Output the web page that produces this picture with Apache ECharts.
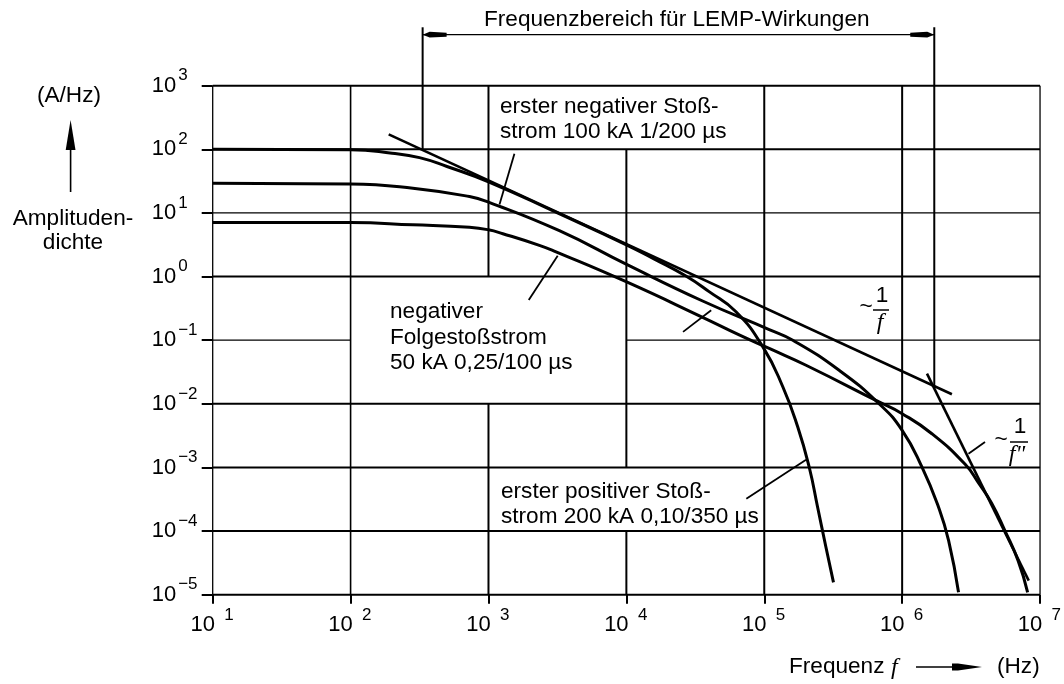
<!DOCTYPE html>
<html><head><meta charset="utf-8">
<script src="https://cdn.jsdelivr.net/npm/echarts/dist/echarts.min.js"></script>
<style>html,body{margin:0;padding:0;background:#fff}#c{width:1064px;height:684px}</style>
</head><body><div id="c"></div>
<script>
// ---------------- data ----------------
// Frequency in Hz, amplitude density in A/Hz
const posFirstFreq = [10, 100, 200, 316, 500, 1000, 3162, 10000, 15850, 27040, 39810, 62370, 97720, 136500, 175000, 212300, 243800, 279900, 317700];
const posFirstDens = [100, 98.8, 87, 74, 53.7, 30.9, 10, 3.16, 1.9, 1.02, 0.58, 0.28, 0.0785, 0.0184, 0.00431, 0.000989, 0.000237, 0.0000562, 0.0000156];

const negFirstFreq = [10, 100, 283, 728, 1000, 3266, 9954, 35730, 108600, 161100, 349100, 679200, 1000000, 1393000, 1837000, 2173000, 2564000];
const negFirstDens = [29.4, 28.6, 24.5, 18.1, 14.8, 5.26, 1.567, 0.413, 0.147, 0.1, 0.0337, 0.01007, 0.00383, 0.00101, 0.000237, 0.0000708, 0.0000109];

const negSubFreq = [10, 100, 283, 728, 1000, 1271, 2339, 3090, 9954, 35730, 66370, 108600, 200900, 679200, 1000000, 1644000, 2864000, 3600000, 4457000, 5559000, 6934000, 8128000];
const negSubDens = [7.08, 7.05, 6.52, 5.94, 5.43, 4.72, 3.1, 2.45, 0.83, 0.229, 0.12, 0.0741, 0.0404, 0.0107, 0.0070, 0.00339, 0.00112, 0.000562, 0.000275, 0.000102, 0.0000343, 0.0000109];

const slope1Freq = [189, 2296000];          // ~1/f asymptote
const slope1Dens = [171.4, 0.01413];
const slopeNFreq = [1514000, 8279000];      // ~1/f'' asymptote
const slopeNDens = [0.02985, 0.0000166];

// LEMP frequency range bracket
const lempFreq = [333, 1710000];
const lempTop = 8279;
const lempArrowDens = 6339;
const lempBottom = [97.7, 0.0187];

// leader lines: [f1, d1, f2, d2]
const leaders = [
  [1542, 85.5, 1202, 13.55],
  [1959, 0.429, 3177, 2.12],
  [25760, 0.135, 41210, 0.296],
  [3027000, 0.00164, 3990000, 0.00251],
  [74130, 0.000321, 201000, 0.00132]
];

// grid lines (with the gaps left for the labels)
const gridVertical = [ // [frequency, densFrom, densTo]
  [10, 1e-5, 1e3], [100, 1e-5, 1e3],
  [1000, 1, 1e3], [1000, 1e-5, 1e-2],
  [1e4, 1e-3, 1e2], [1e4, 1e-5, 1e-4],
  [1e5, 1e-5, 1e3], [1e6, 1e-5, 1e3], [1e7, 1e-5, 1e3]
];
const gridHorizontal = [ // [density, freqFrom, freqTo]
  [1e3, 10, 1e7], [1e2, 10, 1e7], [10, 10, 1e7], [1, 10, 1e7],
  [0.1, 10, 100], [0.1, 1e4, 1e7],
  [1e-2, 10, 1e7], [1e-3, 10, 1e7], [1e-4, 10, 1e7], [1e-5, 10, 1e7]
];
const thinVertical = [10, 1e7];
const thinHorizontal = [10, 0.1];

const freqMin = 10, freqMax = 1e7, densMin = 1e-5, densMax = 1e3;

const txtTitle = 'Frequenzbereich für LEMP-Wirkungen';
const txtUnitY = '(A/Hz)';
const txtYName = ['Amplituden-', 'dichte'];
const txtNegFirst = ['erster negativer Stoß-', 'strom 100 kA 1/200 µs'];
const txtNegSub = ['negativer', 'Folgestoßstrom', '50 kA 0,25/100 µs'];
const txtPosFirst = ['erster positiver Stoß-', 'strom 200 kA 0,10/350 µs'];

// ---------------- chart ----------------
const FONT = '"Liberation Sans", Arial, Helvetica, sans-serif';
const TFONT = '"Liberation Sans", Arial, sans-serif';
const zip = (a, b) => a.map((v, i) => [v, b[i]]);
const series = [];
function seg(data, width, z, clip) {
  series.push({type: 'line', data: data, symbol: 'none', silent: true, animation: false,
    clip: clip !== false ? true : false, z: z || 2, lineStyle: {color: '#000', width: width}});
}
gridVertical.forEach(g => seg([[g[0], g[1]], [g[0], g[2]]], thinVertical.includes(g[0]) ? 1.3 : (g[0] === 100 ? 1.6 : 2), 1, false));
gridHorizontal.forEach(g => seg([[g[1], g[0]], [g[2], g[0]]], thinHorizontal.includes(g[0]) ? 1.3 : 2, 1, false));

function curve(f, d, w) {
  series.push({type: 'line', data: zip(f, d), symbol: 'none', silent: true, animation: false,
    smooth: 0.5, z: 3, lineStyle: {color: '#000', width: w, join: 'round'}});
}
curve(posFirstFreq, posFirstDens, 3);
curve(negFirstFreq, negFirstDens, 3);
curve(negSubFreq, negSubDens, 3);
seg(zip(slope1Freq, slope1Dens), 2.6, 3);
seg(zip(slopeNFreq, slopeNDens), 2.6, 3);
leaders.forEach(l => seg([[l[0], l[1]], [l[2], l[3]]], 1.8, 3));

// LEMP bracket
seg([[lempFreq[0], lempTop], [lempFreq[0], lempBottom[0]]], 2, 3, false);
seg([[lempFreq[1], lempTop], [lempFreq[1], lempBottom[1]]], 2, 3, false);
seg([[lempFreq[0], lempArrowDens], [lempFreq[1], lempArrowDens]], 1.3, 3, false);
series.push({
  type: 'custom', clip: false, silent: true, animation: false, z: 4,
  data: lempFreq.map(f => [f, lempArrowDens]),
  renderItem: function (params, api) {
    const p = api.coord([api.value(0), api.value(1)]);
    const d = params.dataIndex === 0 ? 1 : -1;
    return {type: 'polygon', shape: {points: [[p[0], p[1]], [p[0] + d * 7, p[1] - 2.8], [p[0] + d * 24, p[1] - 2], [p[0] + d * 24, p[1] + 2], [p[0] + d * 7, p[1] + 2.8]]},
      style: {fill: '#000'}};
  }
});

function expFmt(v) {
  const e = Math.round(Math.log10(v));
  return '{b|10}{e|' + (e < 0 ? '\u2212' + (-e) : e) + '}';
}

const graphic = [];
function txt(s, x, y, opt) {
  graphic.push({type: 'text', x: x, y: y, silent: true, style: Object.assign({text: s, font: '22.6px ' + FONT, fill: '#000', align: 'left', verticalAlign: 'middle'}, opt || {})});
}
txt(txtTitle, 484, 20);
txt(txtUnitY, 69, 96, {align: 'center'});
txt(txtYName[0], 73, 219, {align: 'center'});
txt(txtYName[1], 73, 243, {align: 'center'});
txt(txtNegFirst[0], 500, 107);
txt(txtNegFirst[1], 500, 131.5);
txt(txtNegSub[0], 390, 312);
txt(txtNegSub[1], 390, 338);
txt(txtNegSub[2], 390, 363);
txt(txtPosFirst[0], 501, 492);
txt(txtPosFirst[1], 501, 517);
txt('Frequenz', 789, 667);
txt('f', 891, 668, {font: 'italic 24px "Liberation Serif", serif'});
txt('(Hz)', 997, 667);
// ~1/f
txt('~', 866, 307, {align: 'center'});
txt('1', 882, 296, {align: 'center'});
txt('f', 880, 323, {align: 'center', font: 'italic 24px "Liberation Serif", serif'});
graphic.push({type: 'line', silent: true, shape: {x1: 873, y1: 310, x2: 889, y2: 310}, style: {stroke: '#000', lineWidth: 1.5}});
// ~1/f''
txt('~', 1001, 440, {align: 'center'});
txt('1', 1020, 427, {align: 'center'});
txt('f"', 1017, 455, {align: 'center', font: 'italic 24px "Liberation Serif", serif'});
graphic.push({type: 'line', silent: true, shape: {x1: 1010, y1: 442, x2: 1028, y2: 442}, style: {stroke: '#000', lineWidth: 1.5}});
// y arrow
graphic.push({type: 'line', silent: true, shape: {x1: 70.6, y1: 192, x2: 70.6, y2: 140}, style: {stroke: '#000', lineWidth: 1.6}});
graphic.push({type: 'polygon', silent: true, shape: {points: [[70.6, 120], [75.5, 150], [65.7, 150]]}, style: {fill: '#000'}});
// x arrow
graphic.push({type: 'line', silent: true, shape: {x1: 916, y1: 667, x2: 960, y2: 667}, style: {stroke: '#000', lineWidth: 1.6}});
graphic.push({type: 'polygon', silent: true, shape: {points: [[982, 667], [958, 663.5], [952, 663.5], [952, 670.5], [958, 670.5]]}, style: {fill: '#000'}});

const chart = echarts.init(document.getElementById('c'), null, {renderer: 'canvas'});
chart.setOption({
  animation: false,
  backgroundColor: '#fff',
  grid: {left: 212.7, top: 85.7, width: 828, height: 509, containLabel: false},
  xAxis: {
    type: 'log', logBase: 10, min: freqMin, max: freqMax, splitNumber: 6,
    axisLine: {show: false}, splitLine: {show: false},
    axisTick: {show: true, length: 9, lineStyle: {color: '#000', width: 2}},
    axisLabel: {margin: 12, formatter: expFmt, align: 'center',
      rich: {b: {fontFamily: TFONT, fontSize: 22, color: '#000'},
             e: {fontFamily: TFONT, fontSize: 17, color: '#000', width: 12, padding: [0, 0, 20, 8]}}}
  },
  yAxis: {
    type: 'log', logBase: 10, min: densMin, max: densMax, splitNumber: 8,
    axisLine: {show: false}, splitLine: {show: false},
    axisTick: {show: true, length: 11, lineStyle: {color: '#000', width: 2}},
    axisLabel: {margin: 61, formatter: expFmt, align: 'left',
      rich: {b: {fontFamily: TFONT, fontSize: 22, color: '#000'},
             e: {fontFamily: TFONT, fontSize: 17, color: '#000', padding: [0, 0, 20, 2]}}}
  },
  series: series,
  graphic: graphic
});
</script></body></html>
